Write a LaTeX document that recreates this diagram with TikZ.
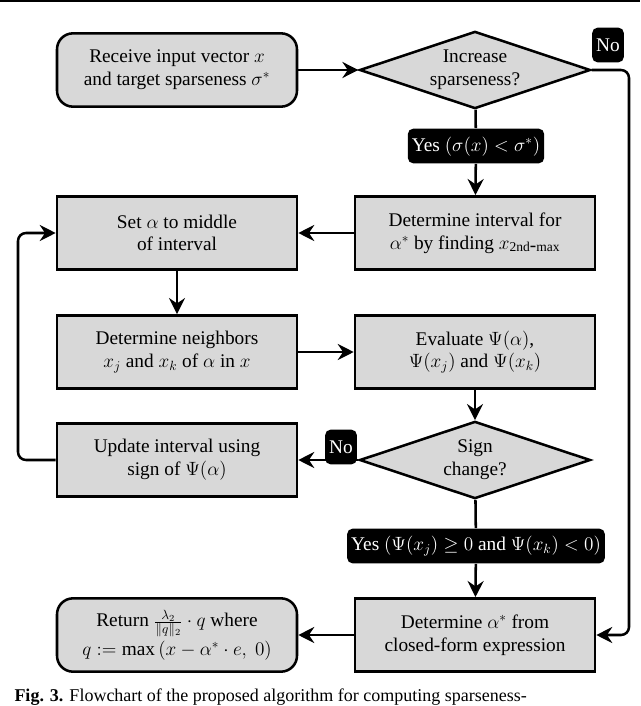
\documentclass[tikz,border=0pt]{standalone}
\usepackage{fontspec}
\setmainfont{Liberation Serif}
\usetikzlibrary{shapes.geometric,arrows.meta}
\tikzset{every picture/.style={line width=0.75pt}}
\tikzset{
  proc/.style={draw,line width=1.9pt,fill={rgb,255:red,216;green,216;blue,216},minimum width=180pt,minimum height=55pt,align=center,inner sep=2pt},
  term/.style={proc,rounded corners=12pt},
  dec/.style={draw,line width=1.9pt,fill={rgb,255:red,216;green,216;blue,216},diamond,aspect=3,minimum width=173pt,minimum height=58pt,align=center,inner sep=0pt},
  tag/.style={fill=black,text=white,rounded corners=4pt,inner sep=3pt,minimum height=26pt},
  flow/.style={line width=1.9pt,-{Stealth[length=12pt,width=12pt,inset=4pt]}}
}
\begin{document}
\begin{tikzpicture}[x=0.75pt,y=0.75pt,yscale=-1,xscale=1,font=\fontsize{14.5}{17}\selectfont]
\useasboundingbox (0,0) rectangle (640,706);
\draw [line width=1.2pt] (0,1) -- (640,1) ;

% nodes
\node [term] (recv) at (177,70) {Receive input vector $x$\\and target sparseness $\sigma^{*}$};
\node [dec] (incr) at (475,70) {Increase\\sparseness?};
\node [tag] (no1) at (608,45) {No};
\node [tag] (yes1) at (476,146) {Yes $\Bigl(\sigma(x)<\sigma^{*}\Bigr)$};
\node [proc] (intv) at (475,233) {Determine interval for\\$\alpha^{*}$ by finding $x_{\mathrm{2nd\mbox{-}max}}$};
\node [proc] (mid) at (177,233) {Set $\alpha$ to middle\\of interval};
\node [proc] (nbr) at (177,352) {Determine neighbors\\$x_j$ and $x_k$ of $\alpha$ in $x$};
\node [proc] (eval) at (475,352) {Evaluate $\Psi(\alpha)$,\\$\Psi(x_j)$ and $\Psi(x_k)$};
\node [dec] (sign) at (475,460) {Sign\\change?};
\node [tag] (no2) at (341,447) {No};
\node [proc] (upd) at (177,460) {Update interval using\\sign of $\Psi(\alpha)$};
\node [tag] (yes2) at (476,546) {Yes $\Bigl(\Psi(x_j)\geq 0$ and $\Psi(x_k)<0\Bigr)$};
\node [proc] (clf) at (475,635) {Determine $\alpha^{*}$ from\\closed-form expression};
\node [term] (ret) at (177,635) {Return $\frac{\lambda_2}{\|q\|_2}\cdot q$ where\\[2pt]$q:=\max\left(x-\alpha^{*}\cdot e,\ 0\right)$};

% connectors
\draw [flow] (recv) -- (incr) ;
\draw [line width=1.9pt] (incr) -- (yes1) ;
\draw [flow] (yes1) -- (intv) ;
\draw [flow] (intv) -- (mid) ;
\draw [flow] (mid) -- (nbr) ;
\draw [flow] (nbr) -- (eval) ;
\draw [flow] (eval) -- (sign) ;
\draw [flow] (sign) -- (upd) ;
\draw [flow,rounded corners=6pt] (upd.west) -| (18,300) |- (mid.west) ;
\draw [line width=1.9pt] (sign) -- (yes2) ;
\draw [flow] (yes2) -- (clf) ;
\draw [flow] (clf) -- (ret) ;
\draw [flow,rounded corners=6pt] (incr.east) -| (629,400) |- (clf.east) ;

\node [anchor=west,inner sep=0pt,font=\fontsize{13.5}{16}\selectfont] (cap) at (14,697) {\textbf{Fig. 3.} Flowchart of the proposed algorithm for computing sparseness-};
\end{tikzpicture}
\end{document}
